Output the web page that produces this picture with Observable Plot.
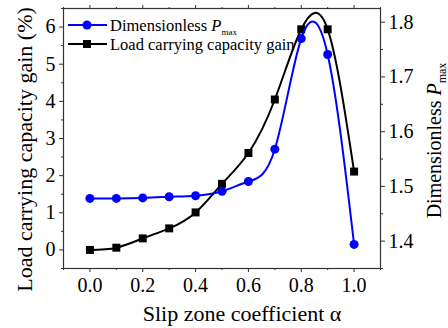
<!DOCTYPE html>
<html><head><meta charset="utf-8">
<script src="https://cdn.jsdelivr.net/npm/d3@7"></script>
<script src="https://cdn.jsdelivr.net/npm/@observablehq/plot@0.6"></script>
<style>body{margin:0;background:#fff} svg{display:block}</style>
</head><body><div id="chart"></div>
<script>
// ---- data ----
const alpha = [0.0, 0.1, 0.2, 0.3, 0.4, 0.5, 0.6, 0.7, 0.8, 0.9, 1.0];
const gain  = [0.00, 0.06, 0.31, 0.58, 1.01, 1.78, 2.61, 4.05, 5.94, 5.94, 2.11];
const pmax  = [1.478, 1.478, 1.479, 1.481, 1.483, 1.491, 1.509, 1.568, 1.770, 1.741, 1.394];

const xMajorTicks = [0.0, 0.2, 0.4, 0.6, 0.8, 1.0];
const xMinorTicks = [-0.1, 0.1, 0.3, 0.5, 0.7, 0.9, 1.1];
const leftTicks = [0, 1, 2, 3, 4, 5, 6];
const leftMinorTicks = [-0.5, 0.5, 1.5, 2.5, 3.5, 4.5, 5.5, 6.5];
const rightTicks = [1.4, 1.5, 1.6, 1.7, 1.8];
const rightMinorTicks = [1.35, 1.45, 1.55, 1.65, 1.75];

const xLabel = "Slip zone coefficient α";
const leftLabel = "Load carrying capacity gain (%)";
const rightLabel = "Dimensionless ";
const legendNames = ["Dimensionless ", "Load carrying capacity gain"];

// ---- dual axis mapping ----
const L = [-0.5, 6.5], R = [1.35, 1.825];
const toLeft = r => L[0] + (r - R[0]) / (R[1] - R[0]) * (L[1] - L[0]);
const fromLeft = v => R[0] + (v - L[0]) / (L[1] - L[0]) * (R[1] - R[0]);

const gainData = alpha.map((a, i) => ({a, v: gain[i]}));
const pData = alpha.map((a, i) => ({a, v: toLeft(pmax[i])}));

const BLUE = "#0000ff";
const FONT = "'Liberation Serif', 'Times New Roman', serif";

const chart = Plot.plot({
  width: 448, height: 328,
  marginLeft: 63, marginRight: 68, marginTop: 8, marginBottom: 60,
  x: {domain: [-0.1, 1.1]},
  y: {domain: L},
  style: {fontFamily: FONT, fontSize: "20px", color: "#000", background: "#fff", overflow: "visible"},
  marks: [
    Plot.frame({stroke: "#333", strokeWidth: 1.2}),
    // bottom axis
    Plot.axisX({anchor: "bottom", ticks: xMajorTicks, tickSize: 4, tickPadding: 5, tickFormat: d => d.toFixed(1), label: null, stroke: "#333", fontSize: 20}),
    Plot.axisX({anchor: "bottom", ticks: xMinorTicks, tickSize: 2, fill: "none", label: null, stroke: "#333"}),
    // top axis (ticks only)
    Plot.axisX({anchor: "top", ticks: xMajorTicks, tickSize: 4, fill: "none", label: null, stroke: "#333"}),
    Plot.axisX({anchor: "top", ticks: xMinorTicks, tickSize: 2, fill: "none", label: null, stroke: "#333"}),
    // left axis
    Plot.axisY({anchor: "left", ticks: leftTicks, tickSize: 4, tickPadding: 4, tickFormat: d => String(d), label: null, stroke: "#333", fontSize: 20}),
    Plot.axisY({anchor: "left", ticks: leftMinorTicks, tickSize: 2, fill: "none", label: null, stroke: "#333"}),
    // right axis
    Plot.axisY({anchor: "right", ticks: rightTicks.map(toLeft), tickFormat: d => fromLeft(d).toFixed(1), tickSize: 4, tickPadding: 4, label: null, stroke: "#333", fontSize: 20}),
    Plot.axisY({anchor: "right", ticks: rightMinorTicks.map(toLeft), tickSize: 2, fill: "none", label: null, stroke: "#333"}),
    // axis titles
    Plot.text([xLabel], {frameAnchor: "bottom", textAnchor: "middle", lineAnchor: "middle", dx: 20, dy: 45, fontSize: 22, fill: "#000"}),
    Plot.text([leftLabel], {frameAnchor: "left", textAnchor: "middle", lineAnchor: "middle", dx: -39, dy: 11, rotate: -90, fontSize: 22, fill: "#000"}),
    Plot.text([rightLabel], {frameAnchor: "right", textAnchor: "middle", lineAnchor: "middle", dx: 54, dy: 2, rotate: -90, fontSize: 20, fill: "#000"}),
    // series
    Plot.line(gainData, {x: "a", y: "v", stroke: "#000", strokeWidth: 2, curve: "natural"}),
    Plot.dot(gainData, {x: "a", y: "v", symbol: "square", fill: "#000", stroke: "none", r: 4.5}),
    Plot.line(pData, {x: "a", y: "v", stroke: BLUE, strokeWidth: 2, curve: "natural"}),
    Plot.dot(pData, {x: "a", y: "v", symbol: "circle", fill: BLUE, stroke: "none", r: 4.5})
  ]
});

document.getElementById("chart").appendChild(chart);

// subscript for right axis title
const svg = d3.select(chart);
svg.selectAll("text").filter(function() { return this.textContent === rightLabel; })
  .each(function() {
    const t = d3.select(this);
    t.append("tspan").attr("font-style", "italic").text("P");
    t.append("tspan").attr("font-size", 12).attr("dy", 5).text("max");
  });

// legend (drawn beneath the series)
const lg = svg.append("g").attr("font-family", FONT).style("font-size", "16.5px").attr("text-anchor", "start");
const items = [
  {name: legendNames[0], color: BLUE, sym: "circle", y: 25, sub: true},
  {name: legendNames[1], color: "#000", sym: "square", y: 44, sub: false}
];
items.forEach(it => {
  lg.append("line").attr("x1", 68).attr("x2", 107).attr("y1", it.y).attr("y2", it.y)
    .attr("stroke", it.color).attr("stroke-width", 2);
  if (it.sym === "circle") {
    lg.append("circle").attr("cx", 87).attr("cy", it.y).attr("r", 4.5).attr("fill", it.color);
  } else {
    lg.append("rect").attr("x", 83).attr("y", it.y - 4).attr("width", 8).attr("height", 8).attr("fill", it.color);
  }
  const tx = lg.append("text").attr("x", 110).attr("y", it.y).attr("dy", "0.35em")
    .attr("text-anchor", "start").attr("fill", "#000").text(it.name);
  if (it.sub) {
    tx.append("tspan").attr("font-style", "italic").text("P");
    tx.append("tspan").style("font-size", "9px").attr("dy", 4).text("max");
  }
});
lg.lower();
</script>
</body></html>
